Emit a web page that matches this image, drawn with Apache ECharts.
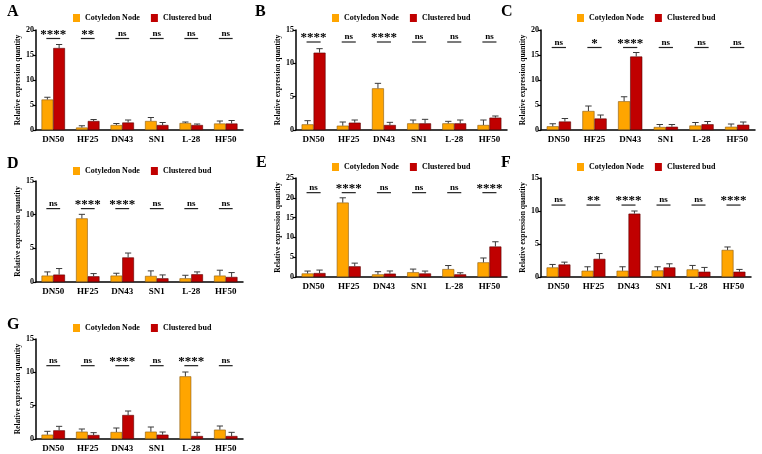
<!DOCTYPE html>
<html>
<head>
<meta charset="utf-8">
<script src="https://cdn.jsdelivr.net/npm/echarts@6/dist/echarts.min.js"></script>
<style>
html, body { margin: 0; padding: 0; background: #fff; }
#chart { width: 762px; height: 454px; }
</style>
</head>
<body>
<div id="chart"></div>
<script>
// data (one row per panel A..G)
var categories = ['DN50', 'HF25', 'DN43', 'SN1', 'L-28', 'HF50'];
var panels = ['A', 'B', 'C', 'D', 'E', 'F', 'G'];
var yMax = [20, 15, 20, 15, 25, 15, 15];

var nodeMean = [
    [6.1, 0.5, 1.0, 1.8, 1.4, 1.3],
    [0.85, 0.65, 6.25, 1.0, 1.0, 0.75],
    [0.75, 3.8, 5.75, 0.6, 0.9, 0.65],
    [0.95, 9.45, 0.95, 0.9, 0.55, 0.95],
    [0.9, 18.8, 0.67, 1.2, 2.0, 3.7],
    [1.45, 0.95, 0.95, 1.0, 1.15, 4.1],
    [0.65, 1.1, 1.05, 1.1, 9.4, 1.4]
];
var nodeErr = [
    [0.45, 0.35, 0.3, 0.7, 0.2, 0.5],
    [0.55, 0.55, 0.75, 0.5, 0.3, 0.75],
    [0.5, 1.0, 0.9, 0.5, 0.6, 0.55],
    [0.55, 0.6, 0.35, 0.75, 0.45, 0.8],
    [0.6, 1.2, 0.67, 0.8, 0.9, 1.1],
    [0.45, 0.6, 0.6, 0.55, 0.6, 0.45],
    [0.5, 0.4, 0.6, 0.7, 0.65, 0.55]
];
var budMean = [
    [16.4, 1.8, 1.5, 1.0, 1.0, 1.3],
    [11.6, 1.1, 0.75, 1.0, 1.0, 1.85],
    [1.7, 2.3, 14.7, 0.65, 1.15, 1.05],
    [1.1, 0.85, 3.65, 0.55, 1.15, 0.75],
    [1.0, 2.7, 0.85, 0.9, 0.67, 7.7],
    [1.9, 2.75, 9.6, 1.45, 0.8, 0.8],
    [1.3, 0.6, 3.6, 0.65, 0.45, 0.45]
];
var budErr = [
    [0.7, 0.3, 0.5, 0.5, 0.2, 0.6],
    [0.6, 0.4, 0.4, 0.6, 0.5, 0.25],
    [0.6, 0.7, 0.8, 0.45, 0.55, 0.55],
    [0.9, 0.4, 0.65, 0.5, 0.35, 0.65],
    [0.75, 0.8, 0.67, 0.6, 0.4, 1.2],
    [0.35, 0.8, 0.4, 0.55, 0.65, 0.35],
    [0.6, 0.35, 0.6, 0.4, 0.55, 0.55]
];
var sigLabels = [
    ['****', '**', 'ns', 'ns', 'ns', 'ns'],
    ['****', 'ns', '****', 'ns', 'ns', 'ns'],
    ['ns', '*', '****', 'ns', 'ns', 'ns'],
    ['ns', '****', '****', 'ns', 'ns', 'ns'],
    ['ns', '****', 'ns', 'ns', 'ns', '****'],
    ['ns', '**', '****', 'ns', 'ns', '****'],
    ['ns', 'ns', '****', 'ns', '****', 'ns']
];
var sigLine = [18.3, 13.2, 16.5, 10.9, 21.3, 10.9, 11.0];

// layout
var grids = [
    { left: 36, top: 30, width: 207, height: 100 },
    { left: 296, top: 30, width: 211, height: 100 },
    { left: 541, top: 30, width: 214, height: 100 },
    { left: 36, top: 181, width: 207, height: 101 },
    { left: 296, top: 178, width: 211, height: 99 },
    { left: 541, top: 178, width: 210, height: 99 },
    { left: 36, top: 339, width: 207, height: 100 }
];
var legendPos = [[73, 14], [332, 14], [577, 14], [73, 167], [332, 163], [577, 163], [73, 324]];
var letterPos = [[7, 4], [255, 4], [501, 4], [7, 156], [256, 155], [501, 155], [7, 317]];

var FONT = '"Liberation Serif", "Times New Roman", serif';
var ORANGE = '#FFA500';
var RED = '#C00000';
var OFF = 0.17;

var chart = echarts.init(document.getElementById('chart'));

function errorBar(offset) {
    return function (params, api) {
        var band = api.size([1, 0])[0];
        var x = api.coord([api.value(0), 0])[0] + offset * band;
        var yBar = api.coord([0, api.value(1)])[1];
        var yTop = api.coord([0, api.value(1) + api.value(2)])[1];
        var cap = band * 0.09;
        var st = { stroke: '#3a3a3a', lineWidth: 1 };
        return {
            type: 'group',
            children: [
                { type: 'line', shape: { x1: x, y1: yBar, x2: x, y2: yTop }, style: st },
                { type: 'line', shape: { x1: x - cap, y1: yTop, x2: x + cap, y2: yTop }, style: st }
            ]
        };
    };
}

function sigMark(labels) {
    return function (params, api) {
        var band = api.size([1, 0])[0];
        var c = api.coord([api.value(0), api.value(1)]);
        var txt = labels[params.dataIndex];
        var isStar = txt.indexOf('*') >= 0;
        return {
            type: 'group',
            children: [
                { type: 'line', shape: { x1: c[0] - 0.2 * band, y1: c[1], x2: c[0] + 0.2 * band, y2: c[1] },
                  style: { stroke: '#222', lineWidth: 1.2 } },
                { type: 'text', x: c[0], y: isStar ? c[1] - 4 : c[1] - 5,
                  style: { text: txt, fill: '#000', align: 'center', verticalAlign: 'middle',
                           font: 'bold ' + (isStar ? 13 : 9) + 'px ' + FONT } }
            ]
        };
    };
}

var xAxes = [], yAxes = [], series = [], legends = [], graphics = [];

for (var p = 0; p < panels.length; p++) {
    xAxes.push({
        type: 'category', gridIndex: p, data: categories,
        axisLine: { lineStyle: { color: '#000', width: 1.5 } },
        axisTick: { show: false },
        axisLabel: { color: '#000', fontFamily: FONT, fontWeight: 'bold', fontSize: 9, margin: 5 }
    });
    yAxes.push({
        type: 'value', gridIndex: p, min: 0, max: yMax[p], interval: 5,
        name: 'Relative expression quantity', nameLocation: 'middle', nameGap: 10,
        nameTextStyle: { color: '#000', fontFamily: FONT, fontWeight: 'bold', fontSize: 7.5 },
        axisLine: { show: true, lineStyle: { color: '#000', width: 1.5 } },
        axisTick: { show: true, length: 3, lineStyle: { color: '#000', width: 1.2 } },
        axisLabel: { color: '#000', fontFamily: FONT, fontWeight: 'bold', fontSize: 8, margin: 2 },
        splitLine: { show: false }
    });

    var nodeErrData = [], budErrData = [], sigData = [];
    for (var i = 0; i < categories.length; i++) {
        nodeErrData.push([i, nodeMean[p][i], nodeErr[p][i]]);
        budErrData.push([i, budMean[p][i], budErr[p][i]]);
        sigData.push([i, sigLine[p]]);
    }

    series.push({
        name: 'Cotyledon Node', type: 'bar', xAxisIndex: p, yAxisIndex: p,
        data: nodeMean[p], barWidth: '34%', barGap: '0%',
        itemStyle: { color: ORANGE, borderColor: '#8a5a10', borderWidth: 0.6 }
    });
    series.push({
        name: 'Clustered bud', type: 'bar', xAxisIndex: p, yAxisIndex: p,
        data: budMean[p], barWidth: '34%', barGap: '0%',
        itemStyle: { color: RED, borderColor: '#5a0000', borderWidth: 0.6 }
    });
    series.push({
        type: 'custom', xAxisIndex: p, yAxisIndex: p, z: 5, silent: true,
        renderItem: errorBar(-OFF), data: nodeErrData
    });
    series.push({
        type: 'custom', xAxisIndex: p, yAxisIndex: p, z: 5, silent: true,
        renderItem: errorBar(OFF), data: budErrData
    });
    series.push({
        type: 'custom', xAxisIndex: p, yAxisIndex: p, z: 6, silent: true,
        renderItem: sigMark(sigLabels[p]), data: sigData
    });

    legends.push({
        left: legendPos[p][0], top: legendPos[p][1], padding: 0,
        itemWidth: 7, itemHeight: 8, itemGap: 11,
        icon: 'rect',
        itemStyle: { borderWidth: 0 },
        data: ['Cotyledon Node', 'Clustered bud'],
        textStyle: { color: '#000', fontFamily: FONT, fontWeight: 'bold', fontSize: 8 }
    });

    graphics.push({
        type: 'text', left: letterPos[p][0], top: letterPos[p][1],
        style: { text: panels[p], fill: '#000', font: 'bold 16px ' + FONT }
    });
}

var option = {
    backgroundColor: '#fff',
    animation: false,
    grid: grids,
    xAxis: xAxes,
    yAxis: yAxes,
    legend: legends,
    graphic: graphics,
    series: series
};

chart.setOption(option);
</script>
</body>
</html>
